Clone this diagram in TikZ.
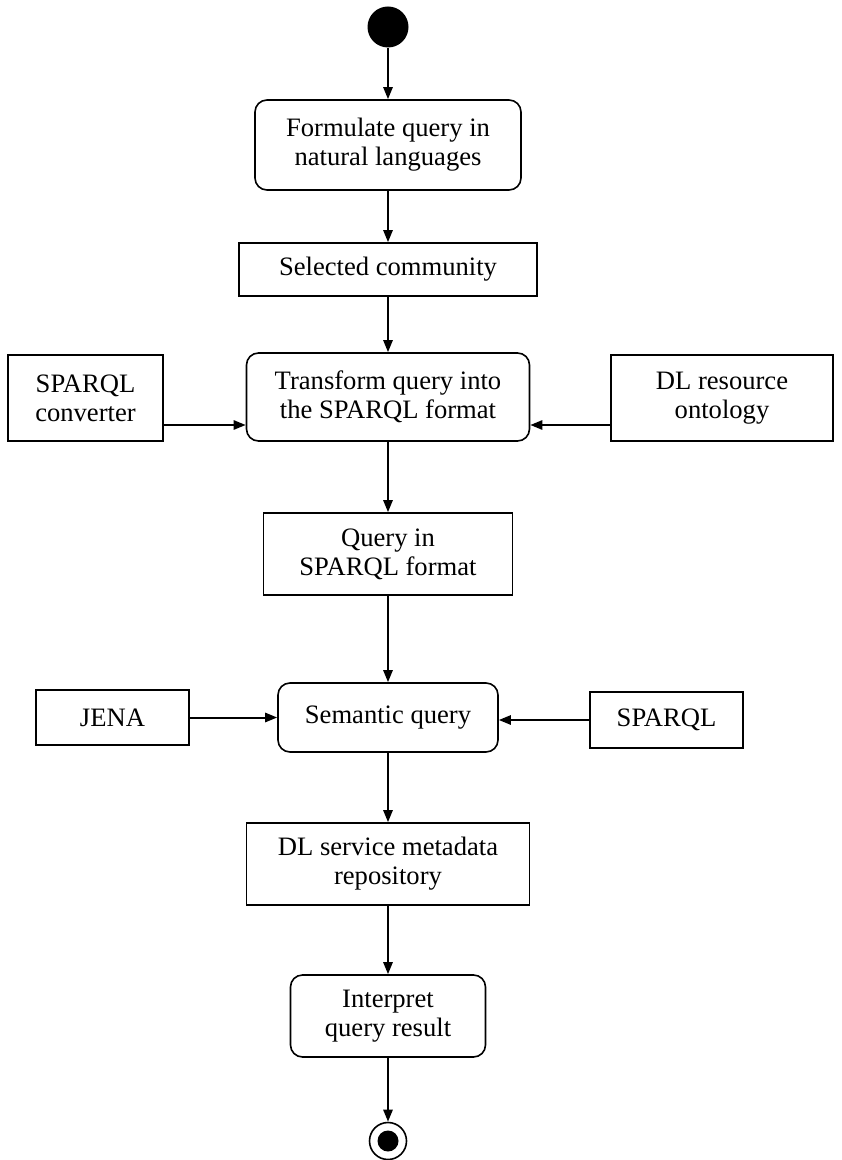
\documentclass[tikz,border=0pt]{standalone}
\usepackage{fontspec}
\setmainfont{Liberation Serif}
\usetikzlibrary{arrows.meta}

\tikzset{
  act/.style={draw, rounded corners=6pt, line width=0.8pt, align=center,
    inner sep=2pt, font=\fontsize{13.3}{14.6}\selectfont},
  obj/.style={draw, line width=0.8pt, align=center, inner sep=2pt,
    font=\fontsize{13.3}{14.6}\selectfont},
  flow/.style={line width=1pt, -{Triangle[length=6pt,width=4.6pt]}},
}

\begin{document}
\begin{tikzpicture}[x=0.5pt, y=-0.5pt]
\useasboundingbox (0,0) rectangle (841,1160);
%\draw [help lines, step=50] (0,0) grid (841,1160);
\node [circle, fill, inner sep=0pt, minimum size=20.5pt] (start) at (388,27) {};
\node [act, minimum width=133pt, minimum height=45pt] (formulate) at (388,145) {Formulate query in\\natural languages};
\node [obj, minimum width=149pt, minimum height=26.5pt] (community) at (388,269.5) {Selected community};
\node [act, minimum width=141.5pt, minimum height=44pt] (transform) at (388,397) {Transform query into\\the SPARQL format};
\node [obj, minimum width=77.5pt, minimum height=43pt] (converter) at (85.5,398) {SPARQL\\converter};
\node [obj, minimum width=111pt, minimum height=43pt] (ontology) at (722,398) {DL resource\\ontology};
\node [obj, minimum width=124.5pt, minimum height=41pt] (sparqlquery) at (388,554) {Query in\\SPARQL format};
\node [act, minimum width=110pt, minimum height=34.5pt] (semantic) at (388,717.5) {Semantic query};
\node [obj, minimum width=76.5pt, minimum height=27.5pt] (jena) at (112.5,717.5) {JENA};
\node [obj, minimum width=76.5pt, minimum height=28pt] (sparql) at (666.5,720) {SPARQL};
\node [obj, minimum width=141.5pt, minimum height=41pt] (repository) at (388,864) {DL service metadata\\repository};
\node [act, minimum width=97.5pt, minimum height=41pt] (interpret) at (388,1016) {Interpret\\query result};
\node [circle, draw, line width=0.8pt, inner sep=0pt, minimum size=18.5pt] (finish) at (388,1141) {};
\node [circle, fill, inner sep=0pt, minimum size=10.5pt] (finishdot) at (finish) {};

\draw [flow] (start) -- (formulate);
\draw [flow] (formulate) -- (community);
\draw [flow] (community) -- (transform);
\draw [flow] ([yshift=-13.5pt]converter.east) coordinate (convout) -- (convout -| transform.west);
\draw [flow] ([yshift=-13.5pt]ontology.west) coordinate (ontout) -- (ontout -| transform.east);
\draw [flow] (transform) -- (sparqlquery);
\draw [flow] (sparqlquery) -- (semantic);
\draw [flow] (jena) -- (semantic);
\draw [flow] (sparql.west) -- (semantic.east |- sparql.west);
\draw [flow] (semantic) -- (repository);
\draw [flow] (repository) -- (interpret);
\draw [flow] (interpret) -- (finish);
\end{tikzpicture}
\end{document}
